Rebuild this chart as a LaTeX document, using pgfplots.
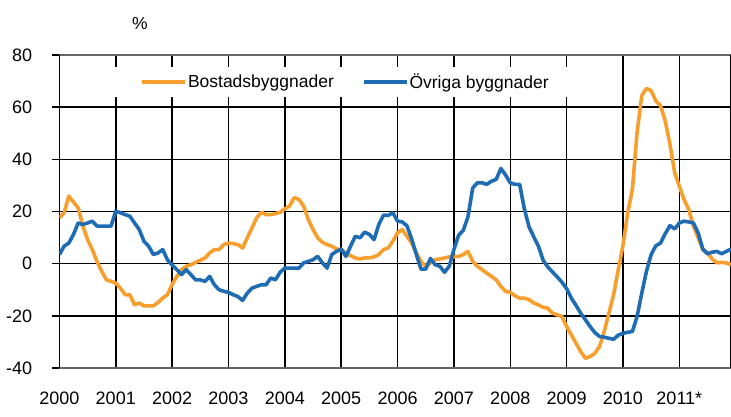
\documentclass[border=0pt]{standalone}
\usepackage{fontspec}
\setmainfont{Liberation Sans}
\usepackage{pgfplots}
\usepackage{pgfplotstable}
\pgfplotsset{compat=1.18}
\definecolor{orng}{RGB}{247,158,44}
\definecolor{blu}{RGB}{30,108,180}
\newcommand\tkf{\fontsize{18bp}{21bp}\selectfont}
\newcommand\lgf{\fontsize{17.5bp}{20bp}\selectfont}
\pgfplotstableread{
m b o
0 17.6 3.5
1 19.5 6.7
2 25.9 7.9
3 23.6 11.2
4 21.4 15.6
5 14.4 15.0
6 9.2 15.6
7 5.4 16.3
8 0.9 14.4
9 -2.9 14.4
10 -6.2 14.4
11 -6.8 14.4
12 -7.4 20.1
13 -9.4 19.5
14 -11.9 18.8
15 -11.9 18.2
16 -15.8 15.6
17 -15.1 13.1
18 -16.2 8.6
19 -16.2 6.7
20 -16.2 3.5
21 -14.9 4.1
22 -13.2 5.4
23 -11.9 1.5
24 -8.0 -0.5
25 -4.9 -2.3
26 -2.3 -4.2
27 -1.0 -2.3
28 -0.4 -4.2
29 0.5 -6.2
30 1.3 -6.2
31 2.2 -6.8
32 4.1 -4.9
33 5.4 -8.1
34 5.4 -10.0
35 7.3 -10.6
36 7.9 -11.0
37 7.7 -11.9
38 7.3 -12.6
39 6.0 -14.1
40 9.9 -11.3
41 13.7 -9.4
42 17.6 -8.7
43 19.7 -8.1
44 18.8 -8.1
45 18.8 -5.5
46 19.2 -6.2
47 19.7 -3.3
48 21.0 -1.7
49 22.1 -1.7
50 25.3 -1.7
51 24.6 -1.7
52 22.1 0.3
53 16.9 0.9
54 13.1 1.5
55 9.9 2.8
56 8.2 0.3
57 7.3 -1.7
58 6.7 3.5
59 5.6 4.7
60 5.4 5.6
61 4.1 2.8
62 3.1 6.7
63 2.2 10.5
64 1.8 9.9
65 2.2 12.1
66 2.2 11.2
67 2.6 9.2
68 3.5 15.0
69 5.4 18.6
70 6.0 18.5
71 8.6 19.5
72 11.8 16.3
73 13.1 16.0
74 10.5 14.5
75 7.9 9.5
76 4.1 3.5
77 0.9 -2.1
78 -1.0 -2.1
79 0.3 2.0
80 1.5 -0.4
81 1.8 -1.0
82 2.2 -3.3
83 2.6 -1.0
84 2.6 5.4
85 2.8 10.9
86 3.5 12.8
87 4.7 18.0
88 0.9 29.0
89 -1.0 31.0
90 -2.3 31.0
91 -3.6 30.4
92 -4.9 31.6
93 -6.2 32.3
94 -8.7 36.5
95 -10.6 34.0
96 -11.0 31.0
97 -12.3 30.4
98 -13.2 30.4
99 -13.2 21.0
100 -13.8 14.1
101 -15.1 10.3
102 -15.8 6.7
103 -16.7 1.3
104 -17.1 -1.3
105 -19.0 -3.2
106 -19.6 -5.1
107 -20.3 -7.1
108 -24.1 -9.6
109 -27.3 -13.2
110 -30.5 -16.0
111 -33.7 -19.0
112 -36.3 -21.5
113 -35.6 -24.1
114 -34.4 -26.4
115 -31.8 -27.9
116 -26.0 -28.2
117 -19.0 -28.6
118 -11.9 -29.0
119 -2.3 -27.4
120 7.0 -26.7
121 19.4 -26.3
122 28.5 -26.0
123 50.3 -20.3
124 64.4 -11.3
125 67.2 -2.9
126 66.3 3.5
127 62.4 6.9
128 60.5 7.9
129 54.7 11.5
130 45.8 14.6
131 34.9 13.3
132 29.7 15.6
133 24.6 16.3
134 20.8 16.0
135 14.4 15.6
136 9.9 11.8
137 5.4 5.6
138 4.1 3.8
139 1.8 4.4
140 0.3 4.7
141 0.5 3.8
142 0.3 4.7
143 -0.4 5.6
}\data
\begin{document}
\begin{tikzpicture}
\path[use as bounding box] (-59.4bp,-49bp) rectangle (671.6bp,368bp);
\begin{axis}[
  name=ax,
  at={(0,0)}, anchor=south west,
  scale only axis, width=671.6bp, height=313bp,
  xmin=0, xmax=143, ymin=-40, ymax=80,
  xtick={0,12,24,36,48,60,72,84,96,108,120,132},
  xticklabels={2000,2001,2002,2003,2004,2005,2006,2007,2008,2009,2010,2011*},
  ytick={-40,-20,0,20,40,60,80},
  yticklabels={-40,-20,0,20,40,60,80},
  xmajorgrids, ymajorgrids,
  major grid style={black, line width=1.5bp},
  separate axis lines,
  x axis line style={black!60, line width=1.5bp},
  y axis line style={black, line width=1.5bp},
  tick align=outside,
  ytick pos=left,
  major tick length=7bp,
  ytick style={black, line width=1.5bp},
  xtick style={draw=none},
  xticklabel style={font=\tkf, anchor=north, inner sep=0pt, yshift=-17bp},
  yticklabel style={font=\tkf, anchor=east, inner sep=0pt, xshift=-20bp},
  legend columns=2,
  legend style={draw=none, fill=white, at={(0.4253,0.9137)}, anchor=center,
    inner xsep=35bp, inner ysep=6bp, font=\lgf,
    nodes={inner sep=1bp},
    /tikz/every even column/.append style={column sep=27bp}},
  legend image code/.code={\draw[#1] (0bp,0bp) -- (43bp,0bp);},
]
\addplot[orng, line width=3.6bp, line join=round] table[x=m, y=b] {\data};
\addlegendentry{Bostadsbyggnader}
\addplot[blu, line width=3.6bp, line join=round] table[x=m, y=o] {\data};
\addlegendentry{Övriga byggnader}
\end{axis}
\node[font=\lgf, anchor=center] at ([xshift=80.6bp, yshift=32bp]ax.north west) {\%};
\end{tikzpicture}
\end{document}
